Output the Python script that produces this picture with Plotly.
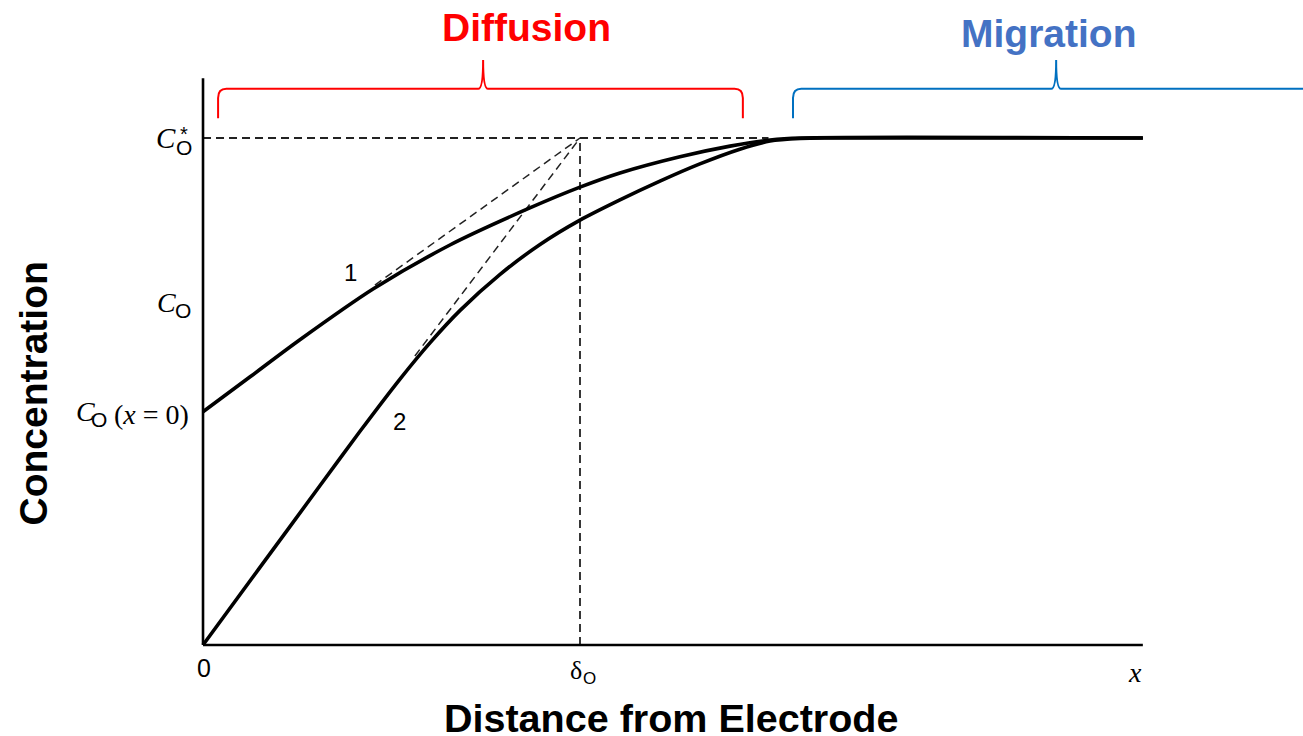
import plotly.graph_objects as go

# ---------------- data (x in units of delta_O, y in units of C*_O) ----------------
curve1_x = [0, 0.125, 0.257, 0.451, 0.655, 0.867, 1.0, 1.106, 1.265, 1.398, 1.504, 1.584, 2.493]
curve1_y = [0.460, 0.529, 0.602, 0.702, 0.789, 0.862, 0.903, 0.931, 0.963, 0.984, 0.996, 1.0, 1.0]

curve2_x = [0, 0.151, 0.310, 0.416, 0.523, 0.602, 0.682, 0.788, 0.894, 1.0, 1.106, 1.212,
            1.318, 1.424, 1.504, 1.584, 1.663, 2.493]
curve2_y = [0, 0.153, 0.314, 0.421, 0.525, 0.596, 0.660, 0.731, 0.790, 0.838, 0.878, 0.915,
            0.949, 0.978, 0.994, 0.999, 1.0, 1.0]

tangent1_x = [0.456, 1.0]
tangent1_y = [0.710, 1.0]
tangent2_x = [0.562, 1.0]
tangent2_y = [0.570, 1.0]

c_star = 1.0
c_o = 0.665
c_o_x0 = 0.460
delta_o = 1.0
x_end = 2.493
y_axis_top = 1.118
c_star_line_end = 1.5

# braces: [start, tip, end]
diffusion_brace = [0.040, 0.743, 1.432]
migration_brace = [1.565, 2.263, 2.95]
brace_base, brace_line, brace_tip = 1.039, 1.097, 1.154

# ---------------- figure ----------------
fig = go.Figure()

dash = "8px,5px"
dcol = "#222222"
fig.add_trace(go.Scatter(x=[0, c_star_line_end], y=[c_star, c_star], mode="lines",
                         line=dict(color=dcol, width=1.8, dash=dash)))
fig.add_trace(go.Scatter(x=[delta_o, delta_o], y=[0, c_star], mode="lines",
                         line=dict(color=dcol, width=1.8, dash=dash)))
fig.add_trace(go.Scatter(x=tangent1_x, y=tangent1_y, mode="lines",
                         line=dict(color=dcol, width=1.5, dash=dash)))
fig.add_trace(go.Scatter(x=tangent2_x, y=tangent2_y, mode="lines",
                         line=dict(color=dcol, width=1.5, dash=dash)))

fig.add_trace(go.Scatter(x=curve1_x, y=curve1_y, mode="lines",
                         line=dict(color="black", width=3.6, shape="spline", smoothing=0.8)))
fig.add_trace(go.Scatter(x=curve2_x, y=curve2_y, mode="lines",
                         line=dict(color="black", width=3.6, shape="spline", smoothing=0.8)))

# axes lines
fig.add_trace(go.Scatter(x=[0, 0], y=[0, y_axis_top], mode="lines",
                         line=dict(color="black", width=2.6)))
fig.add_trace(go.Scatter(x=[0, x_end], y=[0, 0], mode="lines",
                         line=dict(color="black", width=2.6)))


def brace_path(b, base, line, tip):
    x0, xt, x1 = b
    rx, ry = 0.022, 0.018   # corner rounding
    tx = 0.013              # tip rounding
    return (f"M {x0},{base} L {x0},{line - ry} Q {x0},{line} {x0 + rx},{line} "
            f"L {xt - tx},{line} Q {xt},{line} {xt},{tip} "
            f"Q {xt},{line} {xt + tx},{line} "
            f"L {x1 - rx},{line} Q {x1},{line} {x1},{line - ry} L {x1},{base}")


shapes = [
    dict(type="path", xref="x", yref="y",
         path=brace_path(diffusion_brace, brace_base, brace_line, brace_tip),
         line=dict(color="#FF0000", width=2)),
    dict(type="path", xref="x", yref="y",
         path=brace_path(migration_brace, brace_base, brace_line, brace_tip),
         line=dict(color="#0070C0", width=2)),
]

serif = "Liberation Serif, Times New Roman, serif"
sans = "Liberation Sans, Arial, sans-serif"

ann = []


def txt(text, x, y, size, family=sans, xshift=0, yshift=0, xanchor="center",
        yanchor="middle", color="black", weight="normal", textangle=0, xref="x", yref="y"):
    ann.append(dict(text=text, x=x, y=y, xref=xref, yref=yref, showarrow=False,
                    xshift=xshift, yshift=yshift, xanchor=xanchor, yanchor=yanchor,
                    textangle=textangle, borderpad=0, borderwidth=0,
                    font=dict(size=size, family=family, color=color, weight=weight)))


# y tick labels
txt("<i>C</i>", 0, c_star, 29, serif, xshift=-37, yshift=0)
txt("*", 0, c_star, 20, sans, xshift=-19, yshift=4)
txt("O", 0, c_star, 21, sans, xshift=-19, yshift=-9)

txt("<i>C</i>", 0, c_o, 28, serif, xshift=-37, yshift=5)
txt("O", 0, c_o, 21, sans, xshift=-20, yshift=-3)

txt("<i>C</i>", 0, c_o_x0, 28, serif, xshift=-118, yshift=0)
txt("O", 0, c_o_x0, 21, sans, xshift=-104, yshift=-8)
txt("(<i>x</i> = 0)", 0, c_o_x0, 28, serif, xshift=-14, yshift=-3, xanchor="right")

# x tick labels
txt("0", 0, 0, 25, sans, xshift=1, yshift=-23)
txt("δ", delta_o, 0, 26, serif, xshift=-4, yshift=-26)
txt("O", delta_o, 0, 17, sans, xshift=9, yshift=-34)
txt("<i>x</i>", x_end, 0, 28, serif, xshift=-8, yshift=-28)

# curve labels
txt("1", 0.390, 0.735, 24, sans)
txt("2", 0.520, 0.440, 24, sans)

# brace titles
txt("Diffusion", diffusion_brace[1], brace_tip, 39, sans, xshift=43, yshift=32,
    color="#FF0000", weight="bold")
txt("Migration", migration_brace[1], brace_tip, 39, sans, xshift=-8, yshift=26,
    color="#4472C4", weight="bold")

# axis titles
txt("Concentration", 33 / 1303, 1 - 393.5 / 736, 39, sans, weight="bold",
    textangle=-90, xref="paper", yref="paper")
txt("Distance from Electrode", 671 / 1303, 1 - 718 / 736, 39.5, sans, weight="bold",
    xref="paper", yref="paper")

fig.update_layout(
    width=1303, height=736,
    margin=dict(l=0, r=0, t=0, b=0),
    paper_bgcolor="white", plot_bgcolor="white",
    showlegend=False,
    xaxis=dict(visible=False, range=[-0.5385, 2.9178], fixedrange=True),
    yaxis=dict(visible=False, range=[-0.1795, 1.2722], fixedrange=True),
    shapes=shapes,
    annotations=ann,
)

fig.write_html("out.html")
